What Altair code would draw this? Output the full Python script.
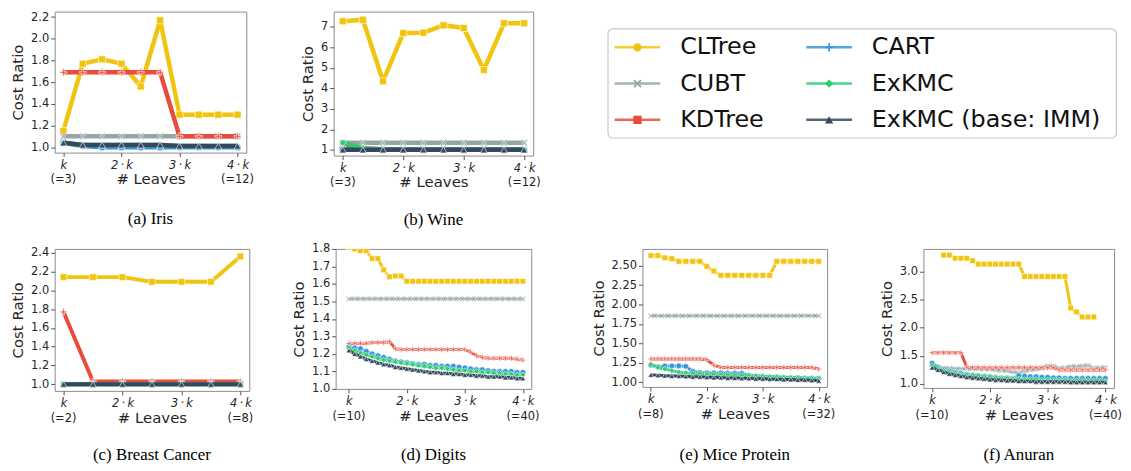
import altair as alt
import pandas as pd

# ---------------- series definitions ----------------
SERIES = ["CLTree", "CUBT", "KDTree", "CART", "ExKMC", "ExKMC (base: IMM)"]
COLORS = ["#f1c40f", "#95a5a6", "#e74c3c", "#3498db", "#2ecc71", "#34495e"]

PLUS = "M-1,-0.22H-0.22V-1H0.22V-0.22H1V0.22H0.22V1H-0.22V0.22H-1Z"
XMARK = "M-1,-0.7L-0.7,-1L0,-0.3L0.7,-1L1,-0.7L0.3,0L1,0.7L0.7,1L0,0.3L-0.7,1L-1,0.7L-0.3,0Z"
PLOT_SHAPES = ["square", XMARK, PLUS, "circle", "diamond", "triangle-up"]
LEGEND_SHAPES = ["circle", XMARK, "square", PLUS, "diamond", "triangle-up"]
LEG_COL = [0, 0, 0, 1, 1, 1]
LEG_ROW = [0, 1, 2, 0, 1, 2]

# ---------------- data ----------------
# (a) Iris, k = 3, leaves 3..12
IRIS_K = 3
IRIS = [
    [1.15, 1.77, 1.81, 1.77, 1.56, 2.17, 1.30, 1.30, 1.30, 1.30],
    [1.10, 1.10, 1.10, 1.10, 1.10, 1.10, 1.10, 1.10, 1.10, 1.10],
    [1.69, 1.69, 1.69, 1.69, 1.69, 1.69, 1.10, 1.10, 1.10, 1.10],
    [1.04, 1.01, 1.00, 1.00, 1.00, 1.00, 1.00, 1.00, 1.00, 1.00],
    [1.04, 1.02, 1.02, 1.02, 1.02, 1.02, 1.01, 1.01, 1.01, 1.01],
    [1.04, 1.02, 1.02, 1.02, 1.02, 1.02, 1.01, 1.01, 1.01, 1.01],
]
# (b) Wine, k = 3
WINE_K = 3
WINE = [
    [7.28, 7.35, 4.35, 6.70, 6.72, 7.08, 6.95, 4.90, 7.18, 7.18],
    [1.35, 1.35, 1.35, 1.35, 1.35, 1.35, 1.35, 1.35, 1.35, 1.35],
    [1.12, 1.07, 1.03, 1.02, 1.02, 1.02, 1.02, 1.02, 1.02, 1.02],
    [1.00, 1.00, 1.00, 1.00, 1.00, 1.00, 1.00, 1.00, 1.00, 1.00],
    [1.35, 1.08, 1.02, 1.01, 1.01, 1.01, 1.01, 1.01, 1.01, 1.01],
    [1.00, 1.00, 1.00, 1.00, 1.00, 1.00, 1.00, 1.00, 1.00, 1.00],
]
# (c) Breast Cancer, k = 2
BREAST_K = 2
BREAST = [
    [2.14, 2.14, 2.14, 2.09, 2.09, 2.09, 2.36],
    [1.00, 1.00, 1.00, 1.00, 1.00, 1.00, 1.00],
    [1.77, 1.03, 1.03, 1.03, 1.03, 1.03, 1.03],
    [1.00, 1.00, 1.00, 1.00, 1.00, 1.00, 1.00],
    [1.00, 1.00, 1.00, 1.00, 1.00, 1.00, 1.00],
    [1.00, 1.00, 1.00, 1.00, 1.00, 1.00, 1.00],
]
# (d) Digits, k = 10, leaves 10..40
DIGITS_K = 10
DIGITS = [
    [1.81, 1.80, 1.79, 1.79, 1.745, 1.745, 1.68, 1.64, 1.645, 1.645,
     1.615, 1.615, 1.615, 1.615, 1.615, 1.615, 1.615, 1.615, 1.615, 1.615,
     1.615, 1.615, 1.615, 1.615, 1.615, 1.615, 1.615, 1.615, 1.615, 1.615, 1.615],
    [1.515, 1.515, 1.515, 1.515, 1.515, 1.515, 1.515, 1.515, 1.515, 1.515,
     1.515, 1.515, 1.515, 1.515, 1.515, 1.515, 1.515, 1.515, 1.515, 1.515,
     1.515, 1.515, 1.515, 1.515, 1.515, 1.515, 1.515, 1.515, 1.515, 1.515, 1.515],
    [1.26, 1.26, 1.26, 1.26, 1.265, 1.265, 1.265, 1.27, 1.23, 1.225,
     1.225, 1.225, 1.225, 1.225, 1.225, 1.225, 1.225, 1.225, 1.225, 1.225,
     1.225, 1.21, 1.19, 1.18, 1.175, 1.175, 1.175, 1.175, 1.175, 1.17, 1.165],
    [1.24, 1.235, 1.23, 1.215, 1.20, 1.19, 1.18, 1.17, 1.16, 1.155,
     1.15, 1.145, 1.14, 1.14, 1.135, 1.135, 1.13, 1.13, 1.13, 1.125,
     1.12, 1.115, 1.11, 1.11, 1.105, 1.10, 1.10, 1.10, 1.10, 1.095, 1.095],
    [1.235, 1.22, 1.205, 1.195, 1.185, 1.175, 1.165, 1.16, 1.155, 1.15,
     1.145, 1.14, 1.135, 1.13, 1.125, 1.12, 1.12, 1.115, 1.11, 1.105,
     1.105, 1.10, 1.10, 1.095, 1.095, 1.09, 1.09, 1.085, 1.085, 1.08, 1.08],
    [1.22, 1.20, 1.185, 1.17, 1.16, 1.15, 1.14, 1.135, 1.125, 1.12,
     1.115, 1.11, 1.105, 1.10, 1.095, 1.095, 1.09, 1.09, 1.085, 1.085,
     1.08, 1.08, 1.075, 1.075, 1.07, 1.07, 1.07, 1.065, 1.065, 1.06, 1.06],
]
# (e) Mice Protein, k = 8, leaves 8..32
MICE_K = 8
MICE = [
    [2.63, 2.63, 2.60, 2.59, 2.555, 2.555, 2.555, 2.555, 2.49, 2.43, 2.375,
     2.375, 2.375, 2.375, 2.375, 2.375, 2.375, 2.375,
     2.555, 2.555, 2.555, 2.555, 2.555, 2.555, 2.555],
    [1.855, 1.855, 1.855, 1.855, 1.855, 1.855, 1.855, 1.855, 1.855, 1.855,
     1.855, 1.855, 1.855, 1.855, 1.855, 1.855, 1.855, 1.855, 1.855, 1.855,
     1.855, 1.855, 1.855, 1.855, 1.855],
    [1.30, 1.30, 1.30, 1.30, 1.30, 1.30, 1.30, 1.30, 1.29, 1.22,
     1.19, 1.19, 1.19, 1.19, 1.19, 1.19, 1.19, 1.19, 1.19, 1.19,
     1.19, 1.19, 1.19, 1.19, 1.17],
    [1.22, 1.20, 1.21, 1.21, 1.21, 1.205, 1.14, 1.125, 1.12, 1.12,
     1.12, 1.115, 1.115, 1.115, 1.09, 1.08, 1.075, 1.07, 1.07, 1.065,
     1.06, 1.06, 1.055, 1.055, 1.05],
    [1.23, 1.19, 1.17, 1.15, 1.13, 1.12, 1.115, 1.11, 1.105, 1.10,
     1.10, 1.095, 1.09, 1.09, 1.085, 1.08, 1.075, 1.07, 1.065, 1.06,
     1.06, 1.055, 1.05, 1.05, 1.04],
    [1.095, 1.09, 1.085, 1.08, 1.08, 1.075, 1.07, 1.07, 1.065, 1.06,
     1.06, 1.055, 1.055, 1.05, 1.05, 1.045, 1.045, 1.04, 1.04, 1.035,
     1.035, 1.03, 1.03, 1.025, 1.02],
]
# (f) Anuran, k = 10, leaves 10..40
ANURAN_K = 10
ANURAN = [
    [None, None, 3.29, 3.29, 3.235, 3.235, 3.235, 3.19, 3.13, 3.13,
     3.13, 3.13, 3.13, 3.13, 3.13, 3.13, 2.91, 2.91, 2.91, 2.91,
     2.91, 2.91, 2.91, 2.91, 2.35, 2.28, 2.19, 2.19, 2.19, None, None],
    [1.30, 1.29, 1.28, 1.28, 1.27, 1.27, 1.27, 1.27, 1.27, 1.26,
     1.26, 1.25, 1.24, 1.23, 1.21, 1.20, 1.23, 1.25, 1.26, 1.28,
     1.32, 1.32, 1.28, 1.29, 1.31, 1.31, 1.32, 1.33, 1.28, 1.29, 1.29],
    [1.555, 1.555, 1.555, 1.555, 1.555, 1.555, 1.30, 1.29, 1.29, 1.29,
     1.29, 1.29, 1.29, 1.29, 1.29, 1.29, 1.29, 1.29, 1.29, 1.29,
     1.29, 1.29, 1.25, 1.25, 1.25, 1.25, 1.25, 1.25, 1.25, 1.25, 1.25],
    [1.37, 1.30, 1.26, 1.23, 1.21, 1.19, 1.17, 1.16, 1.15, 1.14,
     1.13, 1.12, 1.11, 1.11, 1.10, 1.15, 1.14, 1.13, 1.13, 1.12,
     1.12, 1.11, 1.11, 1.10, 1.10, 1.10, 1.10, 1.10, 1.10, 1.10, 1.10],
    [1.33, 1.28, 1.24, 1.21, 1.19, 1.17, 1.16, 1.15, 1.14, 1.13,
     1.12, 1.11, 1.10, 1.10, 1.09, 1.09, 1.08, 1.08, 1.08, 1.07,
     1.07, 1.07, 1.07, 1.07, 1.06, 1.06, 1.06, 1.06, 1.06, 1.06, 1.05],
    [1.29, 1.25, 1.21, 1.18, 1.16, 1.14, 1.12, 1.11, 1.10, 1.09,
     1.08, 1.07, 1.07, 1.06, 1.06, 1.05, 1.05, 1.05, 1.04, 1.04,
     1.04, 1.04, 1.04, 1.04, 1.03, 1.03, 1.03, 1.03, 1.03, 1.03, 1.03],
]

FONT = "DejaVu Sans"
SERIF = "Liberation Serif"


def make_panel(caption, k, values, y_dom, y_ticks, y_fmt, W, H, lw, ms,
               pad=(0.05, 0.05), cap_offset=20):
    leaves = list(range(k, 4 * k + 1))
    recs = []
    for s, vals in zip(SERIES, values):
        for lf, v in zip(leaves, vals):
            if v is not None:
                recs.append({"series": s, "leaves": lf, "ratio": v})
    df = pd.DataFrame(recs)
    span = 3 * k
    xscale = alt.Scale(domain=[k - pad[0] * span, 4 * k + pad[1] * span],
                       nice=False, zero=False)
    yscale = alt.Scale(domain=y_dom, nice=False, zero=False)
    label_expr = ("datum.value == %d ? 'k' : format(datum.value / %d, 'd') + '\u2009\u00b7\u2009k'"
                  % (k, k))
    xenc = alt.X("leaves:Q", scale=xscale,
                 axis=alt.Axis(values=[k, 2 * k, 3 * k, 4 * k], labelExpr=label_expr,
                               title="# Leaves", labelFontStyle="italic",
                               titlePadding=1, labelPadding=3))
    yenc = alt.Y("ratio:Q", scale=yscale,
                 axis=alt.Axis(values=y_ticks, format=y_fmt, title="Cost Ratio",
                               titlePadding=5, labelPadding=2))
    layers = []
    for i, s in enumerate(SERIES):
        base = alt.Chart(df).transform_filter(alt.datum.series == s)
        layers.append(base.mark_line(color=COLORS[i], strokeWidth=lw, clip=True,
                                     strokeJoin="round").encode(x=xenc, y=yenc))
        layers.append(base.mark_point(shape=PLOT_SHAPES[i], filled=True, fill=COLORS[i],
                                      stroke="white", strokeWidth=0.6, size=ms,
                                      opacity=1, clip=True).encode(x=xenc, y=yenc))
    sub_df = pd.DataFrame({"leaves": [k, 4 * k], "txt": ["(=%d)" % k, "(=%d)" % (4 * k)]})
    sub = alt.Chart(sub_df).mark_text(fontSize=11.5, font=FONT, y=H + 28,
                                      baseline="middle", color="#222").encode(
        x=xenc, text="txt:N")
    layers.append(sub)
    return alt.layer(*layers).properties(
        width=W, height=H,
        view=alt.ViewBackground(stroke="#8c8c8c", strokeWidth=1),
        title=alt.TitleParams(caption, orient="bottom", font=SERIF, fontSize=17,
                              fontWeight="normal", color="black", offset=cap_offset),
    )


iris = make_panel("(a) Iris", IRIS_K, IRIS, [0.95, 2.25],
                  [1.0, 1.2, 1.4, 1.6, 1.8, 2.0, 2.2], ".1f", 193, 142, 4.5, 50,
                  cap_offset=24)
wine = make_panel("(b) Wine", WINE_K, WINE, [0.72, 7.75],
                  [1, 2, 3, 4, 5, 6, 7], "d", 201, 145, 4.5, 50, cap_offset=22)
breast = make_panel("(c) Breast Cancer", BREAST_K, BREAST, [0.93, 2.44],
                    [1.0, 1.2, 1.4, 1.6, 1.8, 2.0, 2.2, 2.4], ".1f", 196, 143, 4.0, 45,
                    cap_offset=22)
digits = make_panel("(d) Digits", DIGITS_K, DIGITS, [1.0, 1.8],
                    [1.0, 1.1, 1.2, 1.3, 1.4, 1.5, 1.6, 1.7, 1.8], ".1f", 197, 141, 3.0, 32,
                    pad=(0.076, 0.048), cap_offset=24)
mice = make_panel("(e) Mice Protein", MICE_K, MICE, [0.94, 2.715],
                  [1.0, 1.25, 1.5, 1.75, 2.0, 2.25, 2.5], ".2f", 186, 139, 3.0, 32,
                  cap_offset=26)
anuran = make_panel("(f) Anuran", ANURAN_K, ANURAN, [0.93, 3.40],
                    [1.0, 1.5, 2.0, 2.5, 3.0], ".1f", 192, 140, 3.0, 32, cap_offset=25)

# ---------------- legend box ----------------
leg_df = pd.DataFrame({"series": SERIES, "col": LEG_COL, "row": LEG_ROW})
lx = alt.X("col:Q", scale=alt.Scale(domain=[0, 1], range=[30, 223]), axis=None)
ly = alt.Y("row:Q", scale=alt.Scale(domain=[0, 2], range=[19, 92]), axis=None)
lcolor = alt.Color("series:N", scale=alt.Scale(domain=SERIES, range=COLORS), legend=None)
lshape = alt.Shape("series:N", scale=alt.Scale(domain=SERIES, range=LEGEND_SHAPES), legend=None)
lbase = alt.Chart(leg_df)
leg_rule = lbase.mark_rule(strokeWidth=2.5, xOffset=-23, x2Offset=23, opacity=0.85).encode(
    x=lx, x2=alt.X2("col:Q"), y=ly, color=lcolor)
leg_pt = lbase.mark_point(filled=True, size=70, opacity=1).encode(
    x=lx, y=ly, color=lcolor, shape=lshape)
leg_txt = lbase.mark_text(align="left", baseline="middle", dx=43, fontSize=24,
                          font=FONT, color="#111").encode(x=lx, y=ly, text="series:N")
legend = alt.layer(leg_rule, leg_pt, leg_txt).properties(
    width=512, height=110,
    view=alt.ViewBackground(stroke="#c8c8c8", strokeWidth=1.2, cornerRadius=5, fill="white"),
)
spacer = alt.Chart(pd.DataFrame({"v": [0]})).mark_point(opacity=0, size=0, strokeWidth=0).encode(
    x=alt.X("v:Q", axis=None), y=alt.Y("v:Q", axis=None)
).properties(width=512, height=1, view=alt.ViewBackground(strokeOpacity=0))
legend_col = alt.vconcat(spacer, legend, spacing=15)

top = alt.hconcat(alt.hconcat(iris, wine, spacing=45), legend_col, spacing=66)
bottom = alt.hconcat(
    alt.hconcat(alt.hconcat(breast, digits, spacing=37), mice, spacing=50),
    anuran, spacing=43)

chart = alt.vconcat(top, bottom, spacing=14).properties(
    padding={"left": 2, "top": 0, "right": 0, "bottom": 0}
).configure_axis(
    labelFont=FONT, titleFont=FONT, labelFontSize=11.5, titleFontSize=15,
    titleFontWeight="normal", labelColor="#262626", titleColor="#262626",
    domain=False, grid=False, tickColor="#555", tickSize=4,
).configure_view(stroke="#8c8c8c").configure_title(font=SERIF)

chart.save("out.html", embed_options={"renderer": "svg", "actions": False})
